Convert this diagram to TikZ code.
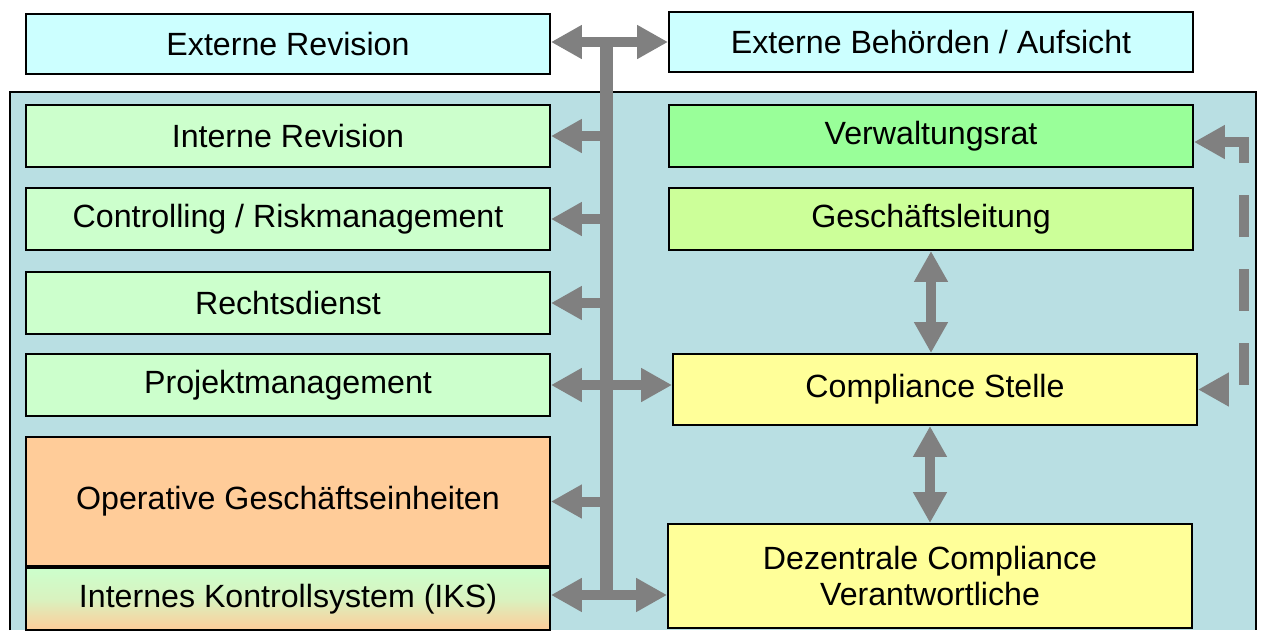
\documentclass[tikz,border=0pt]{standalone}
\usepackage{fontspec}
\setmainfont{Liberation Sans}
\usetikzlibrary{arrows.meta,calc}
\definecolor{bgteal}{RGB}{185,223,227}
\definecolor{cyanbox}{RGB}{204,255,255}
\definecolor{mint}{RGB}{204,255,204}
\definecolor{peach}{RGB}{255,204,153}
\definecolor{vrgreen}{RGB}{153,255,153}
\definecolor{glgreen}{RGB}{204,255,153}
\definecolor{paleyellow}{RGB}{255,255,153}
\definecolor{pipegray}{RGB}{128,128,128}

\begin{document}
\begin{tikzpicture}[x=0.02cm,y=-0.02cm,
	box/.style={draw=black,line width=0.04cm,minimum width=10.48cm,minimum height=1.24cm,inner sep=0pt,align=center,font=\fontsize{18.3}{20.5}\selectfont},
	pipe/.style={draw=pipegray,line width=0.2cm},
	>={Triangle[length=0.62cm,width=0.64cm]}]
\useasboundingbox (0,0) rectangle (1262,630);
\fill[bgteal] (10,92) rectangle (1256,630);
\draw[line width=0.04cm] (10,630) -- (10,92) -- (1256,92) -- (1256,630);
\node[box,fill=cyanbox,minimum height=1.2cm] (extrev) at (288,44) {Externe Revision};
\node[box,fill=cyanbox,minimum height=1.2cm] (extbeh) at (931,42) {Externe Behörden / Aufsicht};
\foreach \n/\y/\t in {intrev/136/{Interne Revision},contr/219/{Controlling / Riskmanagement},recht/303/{Rechtsdienst},projekt/385/{Projektmanagement}}
	\node[box,fill=mint] (\n) at (288,\y) {\t};
\node[box,fill=peach,minimum height=2.58cm] (operativ) at (288,501.5) {Operative Geschäftseinheiten};
\node[box,top color=mint,bottom color=peach,middle color=mint!75!peach,anchor=north] (iks) at (operativ.south) {Internes Kontrollsystem (IKS)};
\node[box,fill=vrgreen] (vr) at (931,136) {Verwaltungsrat};
\node[box,fill=glgreen] (gl) at (931,219) {Geschäftsleitung};
\node[box,fill=paleyellow,minimum height=1.42cm] (cs) at (935,389.5) {Compliance Stelle};
\node[box,fill=paleyellow,minimum height=2.08cm] (dez) at (930,576) {Dezentrale Compliance\\Verantwortliche};
\coordinate (trunktop) at (606,37);
\coordinate (trunkbot) at (606,598);
\draw[pipe,line width=0.26cm] (trunktop) -- (trunkbot);
\draw[pipe,<->] (extbeh.west -| extrev.east) -- (extbeh.west);
\foreach \n in {intrev,contr,recht,operativ}
	\draw[pipe,<-] (\n.east) -- (\n.east -| trunktop);
\draw[pipe,<->] (projekt.east) -- (projekt.east -| cs.west);
\draw[pipe,<->] ($(iks.east)+(0,-4)$) -- ($(iks.east -| dez.west)+(0,-4)$);
\draw[pipe,<->] (gl.south) -- (gl.south |- cs.north);
\draw[pipe,<->] (dez.north |- cs.south) -- (dez.north);
\draw[pipe,<->,dash pattern=on 0.84cm off 0.64cm] ($(vr.east)+(0,6)$) -- ++(50,0) |- (cs.east);
\end{tikzpicture}
\end{document}
